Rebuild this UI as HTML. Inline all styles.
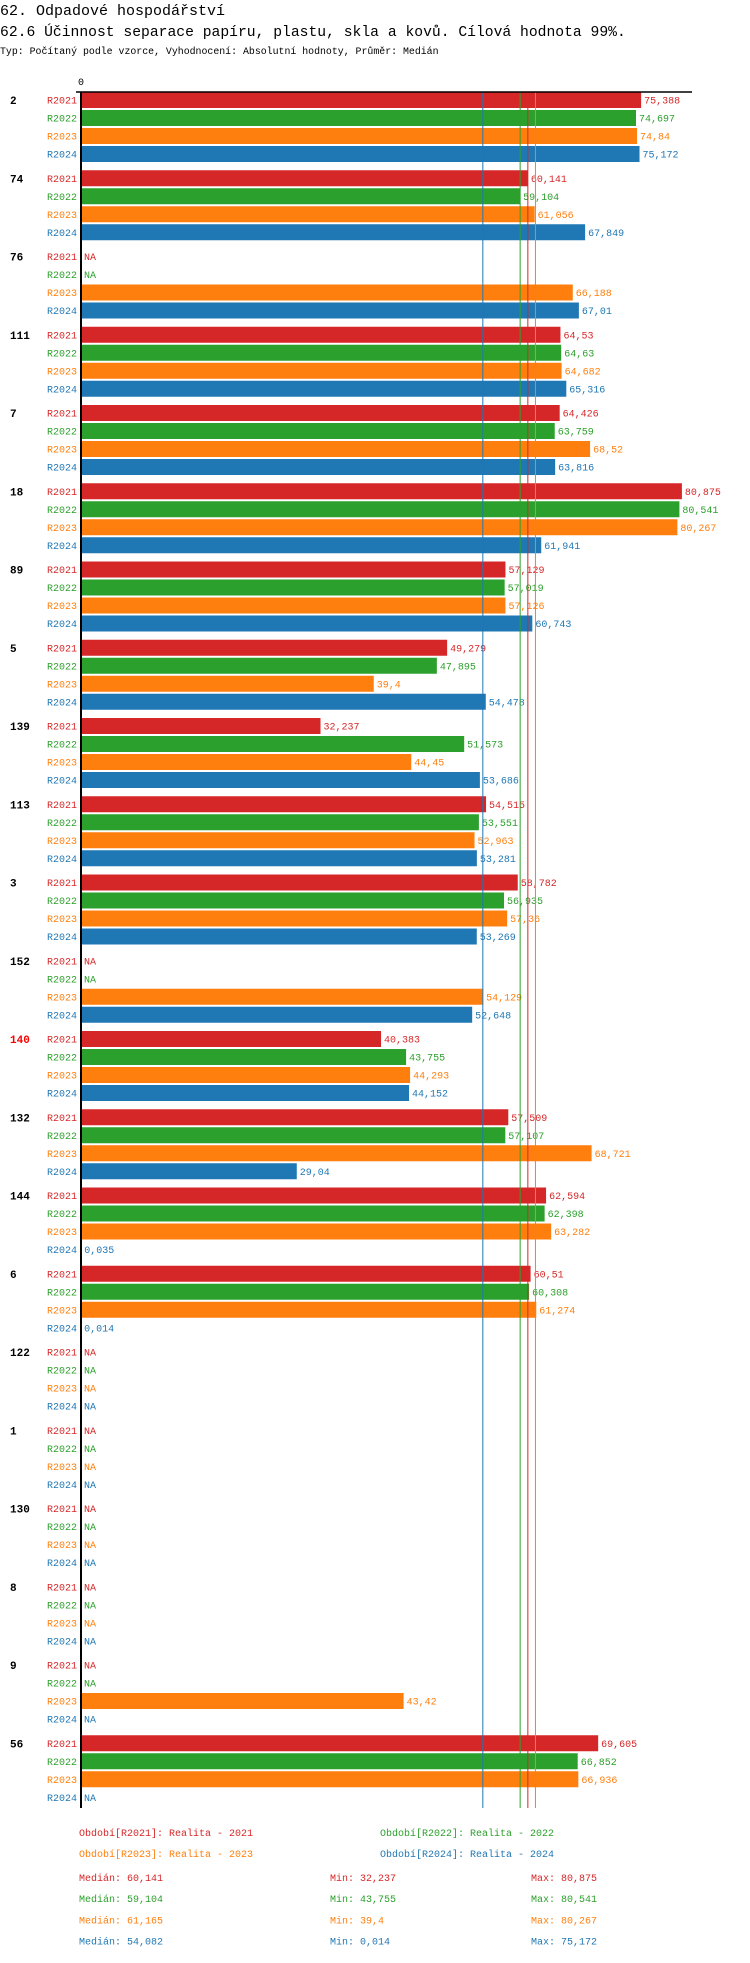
<!DOCTYPE html>
<html><head><meta charset="utf-8">
<style>
body{margin:0;background:#fff;width:750px;height:1958px;overflow:hidden;font-family:"Liberation Mono",monospace;}
svg text{font-family:"Liberation Mono","DejaVu Sans Mono",monospace;}
</style></head>
<body>
<svg id="chart" width="750" height="1958" xmlns="http://www.w3.org/2000/svg">
<text x="0" y="15" font-size="15" fill="#000">62. Odpadové hospodářství</text>
<text x="0" y="36" font-size="14.7" fill="#000">62.6 Účinnost separace papíru, plastu, skla a kovů. Cílová hodnota 99%.</text>
<text x="0" y="54" font-size="9.9" fill="#000">Typ: Počítaný podle vzorce, Vyhodnocení: Absolutní hodnoty, Průměr: Medián</text>
<text x="81" y="85" font-size="10" text-anchor="middle" fill="#000">0</text>
<g id="bars"></g>
<g id="medlines"></g>
<line x1="76" y1="92" x2="692" y2="92" stroke="#000" stroke-width="1.5"/>
<line x1="81" y1="92" x2="81" y2="1808" stroke="#000" stroke-width="2"/>
<g id="legend"></g>
</svg>
<script>
const groups=["2","74","76","111","7","18","89","5","139","113","3","152","140","132","144","6","122","1","130","8","9","56"];
const series=["R2021","R2022","R2023","R2024"];
const v2021=[75.388,60.141,null,64.53,64.426,80.875,57.129,49.279,32.237,54.515,58.782,null,40.383,57.509,62.594,60.51,null,null,null,null,null,69.605];
const v2022=[74.697,59.104,null,64.63,63.759,80.541,57.019,47.895,51.573,53.551,56.935,null,43.755,57.107,62.398,60.308,null,null,null,null,null,66.852];
const v2023=[74.84,61.056,66.188,64.682,68.52,80.267,57.126,39.4,44.45,52.963,57.36,54.129,44.293,68.721,63.282,61.274,null,null,null,null,43.42,66.936];
const v2024=[75.172,67.849,67.01,65.316,63.816,61.941,60.743,54.478,53.686,53.281,53.269,52.648,44.152,29.04,0.035,0.014,null,null,null,null,null,null];
const medians=[60.141,59.104,61.165,54.082];
const mins=["32,237","43,755","39,4","0,014"];
const maxs=["80,875","80,541","80,267","75,172"];
const colors=["#d62728","#2ca02c","#ff7f0e","#1f77b4"];
const values=[v2021,v2022,v2023,v2024];
const NS="http://www.w3.org/2000/svg";
const x0=81,k=7.43;
const xs=v=>x0+v*k;
const rowY=(g,s)=>100+78.25*g+18*s;
const fmt=v=>String(v).replace('.',',');
function mk(tag,attrs,parent){const e=document.createElementNS(NS,tag);for(const a in attrs)e.setAttribute(a,attrs[a]);parent.appendChild(e);return e;}
const bars=document.getElementById('bars');
groups.forEach((g,gi)=>{
  const t=mk('text',{x:10,y:rowY(gi,0)+4,'font-size':11,'font-weight':'bold',fill:g==="140"?"#ff0000":"#000"},bars);
  
  
  t.textContent=g;
  series.forEach((s,si)=>{
    const y=rowY(gi,si);const v=values[si][gi];
    const l=mk('text',{x:77,y:y+3.5,'font-size':10,'text-anchor':'end',fill:colors[si]},bars);
    
    
    l.textContent=s;
    let end=x0;
    if(v!==null){
      const r=mk('rect',{x:x0,y:y-8,width:Math.max(0,xs(v)-x0),height:16,fill:colors[si]},bars);
      
      
      end=xs(v);
    }
    const vt=mk('text',{x:end+3,y:y+3.5,'font-size':10,fill:colors[si]},bars);
    
    
    vt.textContent=v===null?"NA":fmt(v);
  });
});
const ml=document.getElementById('medlines');
medians.forEach((m,i)=>{
  const l=mk('line',{x1:xs(m),x2:xs(m),y1:92,y2:1808,stroke:colors[i],'stroke-width':1},ml);
  
  
});
const lg=document.getElementById('legend');
const legPos=[[79,1836],[380,1836],[79,1857],[380,1857]];
series.forEach((s,i)=>{
  const t=mk('text',{x:legPos[i][0],y:legPos[i][1],'font-size':10,fill:colors[i]},lg);
  
  
  t.textContent="Období["+s+"]: Realita - "+s.slice(1);
  const y=1881+i*21.2;
  const a=mk('text',{x:79,y:y,'font-size':10,fill:colors[i]},lg);
  
  
  a.textContent="Medián: "+fmt(medians[i]);
  const b=mk('text',{x:330,y:y,'font-size':10,fill:colors[i]},lg);
  
  
  b.textContent="Min: "+mins[i];
  const c=mk('text',{x:531,y:y,'font-size':10,fill:colors[i]},lg);
  
  
  c.textContent="Max: "+maxs[i];
});
</script>
</body></html>
